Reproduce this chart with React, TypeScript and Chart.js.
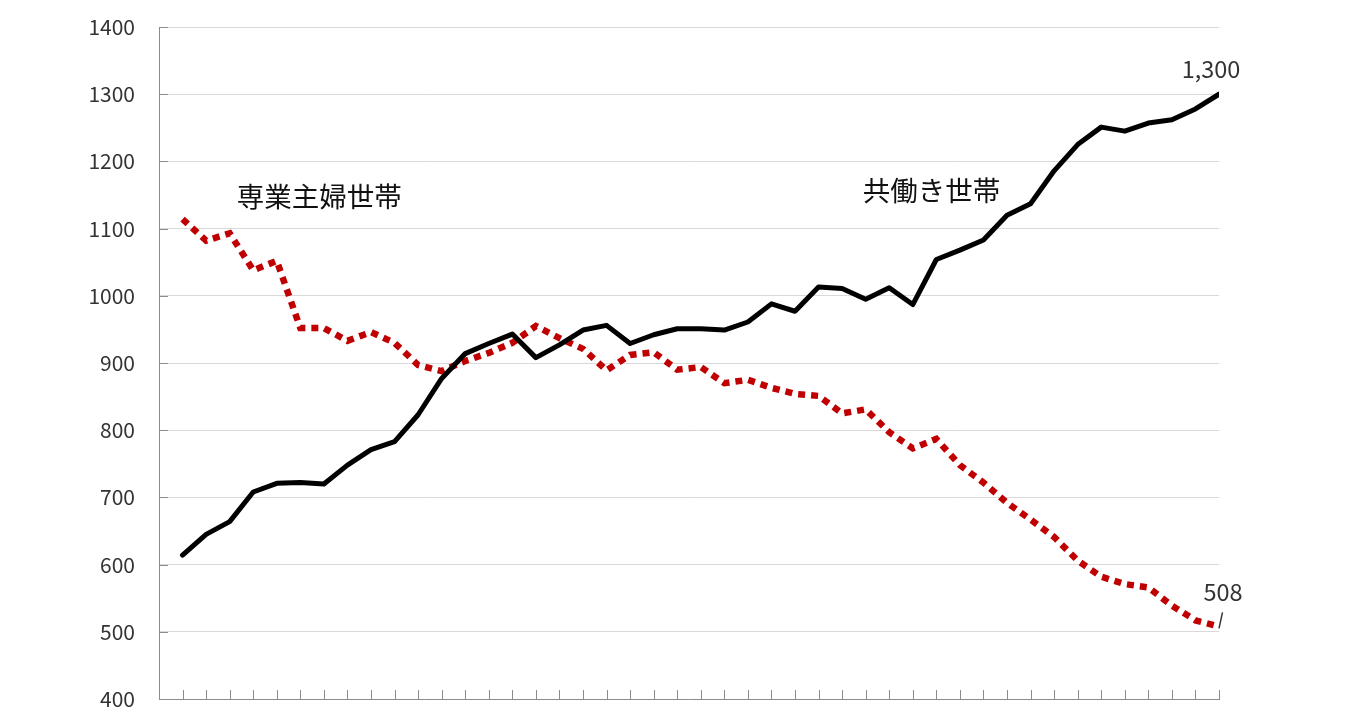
import React, { useEffect, useRef } from "react";
import { Chart, registerables } from "chart.js";

Chart.register(...registerables);

// Categories (years)
const years: number[] = [
  1980, 1981, 1982, 1983, 1984, 1985, 1986, 1987, 1988, 1989,
  1990, 1991, 1992, 1993, 1994, 1995, 1996, 1997, 1998, 1999,
  2000, 2001, 2002, 2003, 2004, 2005, 2006, 2007, 2008, 2009,
  2010, 2011, 2012, 2013, 2014, 2015, 2016, 2017, 2018, 2019,
  2020, 2021, 2022, 2023, 2024,
];

// 共働き世帯 (万世帯)
const dualIncome: number[] = [
  614, 645, 664, 708, 721, 722, 720, 748, 771, 783,
  823, 877, 914, 929, 943, 908, 927, 949, 956, 929,
  942, 951, 951, 949, 961, 988, 977, 1013, 1011, 995,
  1012, 987, 1054, 1068, 1083, 1120, 1137, 1186, 1225, 1251,
  1245, 1257, 1262, 1278, 1300,
];

// 専業主婦世帯 (万世帯)
const housewife: number[] = [
  1114, 1082, 1093, 1038, 1052, 952, 952, 933, 946, 930,
  897, 888, 903, 915, 930, 955, 937, 921, 889, 912,
  916, 890, 894, 870, 875, 863, 854, 851, 825, 831,
  797, 773, 787, 748, 722, 692, 667, 641, 606, 582,
  571, 566, 539, 517, 508,
];

// Y axis tick values
const yTicks: number[] = [400, 500, 600, 700, 800, 900, 1000, 1100, 1200, 1300, 1400];

// Series name annotations (placed in data space: category index, value)
const seriesNames = [
  { text: "専業主婦世帯", x: 5.8, y: 1148 },
  { text: "共働き世帯", x: 31.8, y: 1157 },
];

const FONT = '"Noto Sans CJK JP", "Noto Sans", sans-serif';

const insideTicks = {
  id: "insideTicks",
  afterDatasetsDraw(chart: any) {
    const { ctx, chartArea, scales } = chart;
    const x = scales.x;
    const y = scales.y;
    ctx.save();
    ctx.strokeStyle = "#8c8c8c";
    ctx.lineWidth = 1;
    ctx.beginPath();
    for (let i = 0; i < years.length; i++) {
      const px = Math.round(x.getPixelForValue(i)) + 0.5;
      ctx.moveTo(px, chartArea.bottom);
      ctx.lineTo(px, chartArea.bottom - 9);
    }
    for (const v of yTicks) {
      const py = Math.round(y.getPixelForValue(v)) + 0.5;
      ctx.moveTo(chartArea.left, py);
      ctx.lineTo(chartArea.left + 9, py);
    }
    ctx.stroke();
    ctx.restore();
  },
};

const labelsPlugin = {
  id: "labelsPlugin",
  afterDatasetsDraw(chart: any) {
    const { ctx, scales } = chart;
    const x = scales.x;
    const y = scales.y;
    const last = years.length - 1;
    ctx.save();
    ctx.textAlign = "center";
    ctx.textBaseline = "middle";

    // series names
    ctx.fillStyle = "#111111";
    ctx.font = `27.5px ${FONT}`;
    for (const s of seriesNames) {
      ctx.fillText(s.text, x.getPixelForValue(s.x), y.getPixelForValue(s.y));
    }

    // end value labels
    ctx.fillStyle = "#333333";
    ctx.font = `23.5px ${FONT}`;
    const pxD = x.getPixelForValue(last);
    const pyD = y.getPixelForValue(dualIncome[last]);
    ctx.fillText(dualIncome[last].toLocaleString("en-US"), pxD - 8, pyD - 25);

    const pyH = y.getPixelForValue(housewife[last]);
    ctx.fillText(housewife[last].toLocaleString("en-US"), pxD + 4, pyH - 34);

    // leader line for the lower label
    ctx.strokeStyle = "#333333";
    ctx.lineWidth = 1.5;
    ctx.beginPath();
    ctx.moveTo(pxD + 3.5, pyH - 14);
    ctx.lineTo(pxD, pyH + 2);
    ctx.stroke();
    ctx.restore();
  },
};

export default function App() {
  const canvasRef = useRef<HTMLCanvasElement | null>(null);

  useEffect(() => {
    if (!canvasRef.current) return;
    const chart = new Chart(canvasRef.current, {
      type: "line",
      data: {
        datasets: [
          {
            label: "共働き世帯",
            data: dualIncome.map((v, i) => ({ x: i, y: v })),
            borderColor: "#000000",
            borderWidth: 5,
            pointRadius: 0,
            tension: 0,
            fill: false,
            borderJoinStyle: "round",
            borderCapStyle: "round",
          },
          {
            label: "専業主婦世帯",
            data: housewife.map((v, i) => ({ x: i, y: v })),
            borderColor: "#c00000",
            borderWidth: 6.5,
            borderDash: [7, 6],
            borderCapStyle: "butt",
            pointRadius: 0,
            tension: 0,
            fill: false,
          },
        ],
      },
      options: {
        responsive: false,
        maintainAspectRatio: false,
        animation: false,
        devicePixelRatio: 1,
        layout: { autoPadding: false, padding: { top: 27, right: 131, bottom: 12, left: 0 } },
        plugins: {
          legend: { display: false },
          tooltip: { enabled: false },
        },
        scales: {
          x: {
            type: "linear",
            min: -1,
            max: years.length - 1,
            grid: { display: false },
            ticks: { display: false },
            border: { display: true, color: "#8c8c8c", width: 1 },
            afterFit: (scale: any) => {
              scale.height = 0;
            },
          },
          y: {
            min: 400,
            max: 1400,
            afterBuildTicks: (scale: any) => {
              scale.ticks = yTicks.map((v) => ({ value: v }));
            },
            ticks: {
              color: "#333333",
              font: { size: 21, family: FONT, lineHeight: 1 },
              padding: 0,
              callback: (v: any) => String(v),
            },
            grid: {
              color: "#d9d9d9",
              lineWidth: 1,
              drawTicks: true,
              tickLength: 24,
              tickColor: "rgba(0,0,0,0)",
            },
            border: { display: true, color: "#8c8c8c", width: 1 },
            afterFit: (scale: any) => {
              scale.width = 159;
            },
          },
        },
      },
      plugins: [insideTicks, labelsPlugin],
    } as any);
    return () => chart.destroy();
  }, []);

  return (
    <div
      style={{
        position: "fixed",
        left: 0,
        top: 0,
        width: 1350,
        height: 711,
        background: "#ffffff",
      }}
    >
      <canvas ref={canvasRef} width={1350} height={711} style={{ width: 1350, height: 711 }} />
    </div>
  );
}
